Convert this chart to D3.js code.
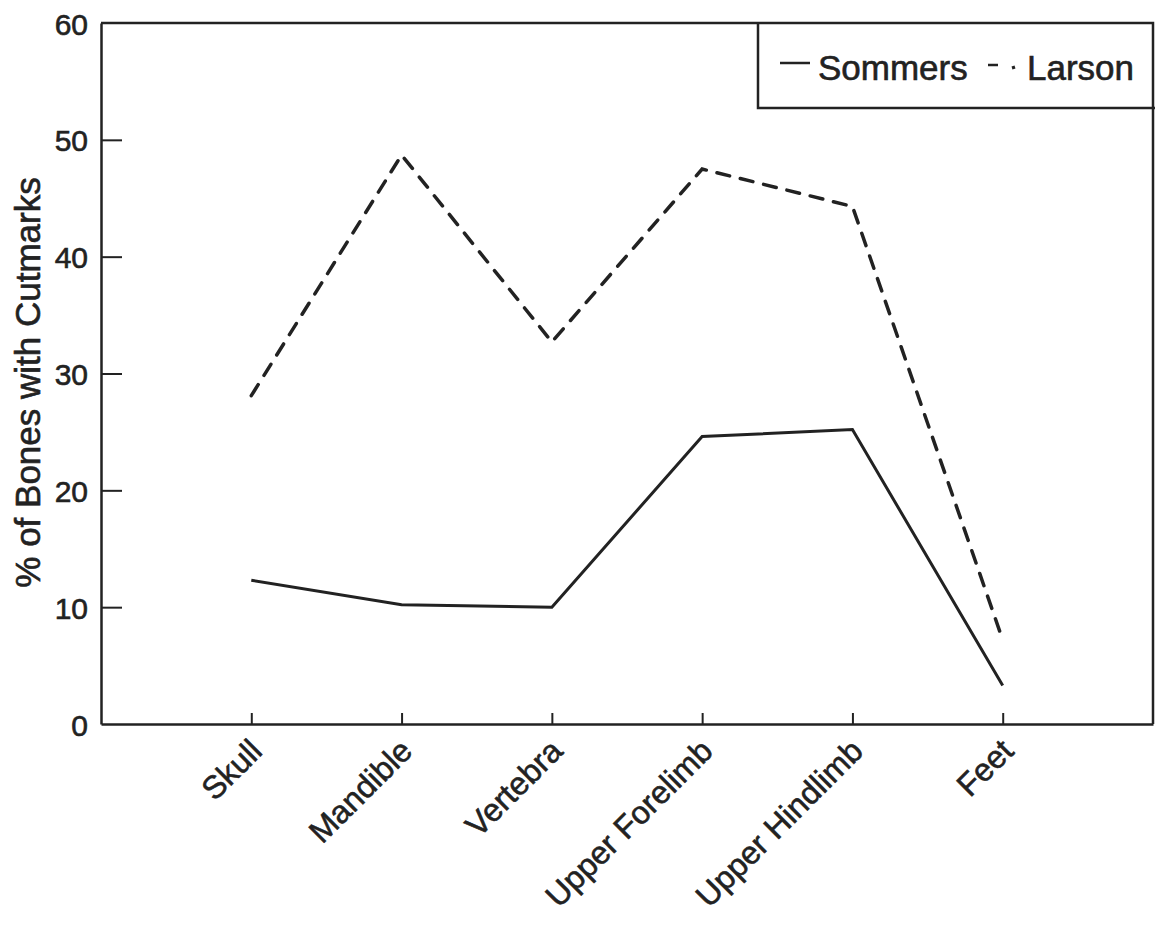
<!DOCTYPE html>
<html>
<head>
<meta charset="utf-8">
<script src="https://cdn.jsdelivr.net/npm/d3@7"></script>
<style>
  html, body { margin: 0; padding: 0; background: #fff; }
  svg { display: block; }
  text { font-family: "Liberation Sans", Arial, Helvetica, sans-serif; fill: #222; stroke: #222; stroke-width: 0.6px; }
</style>
</head>
<body>
<svg id="chart" width="1155" height="926"></svg>
<script>
// ---- data ----
const categories = ["Skull", "Mandible", "Vertebra", "Upper Forelimb", "Upper Hindlimb", "Feet"];
const sommers = [12.3, 10.2, 10.0, 24.6, 25.2, 3.3];
const larson  = [28.1, 48.7, 32.7, 47.5, 44.3, 7.2];
const yTicks = [0, 10, 20, 30, 40, 50, 60];
const seriesNames = ["Sommers", "Larson"];
const yTitle = "% of Bones with Cutmarks";

// ---- layout ----
const W = 1155, H = 926;
const mLeft = 101, mRight = 1153, mTop = 23, mBottom = 724;
const ink = "#222";

const svg = d3.select("#chart");

const x = d3.scalePoint().domain(categories).range([mLeft, mRight]).padding(1);
const y = d3.scaleLinear().domain([0, 60]).range([mBottom, mTop]);

// frame (top and right borders)
svg.append("path")
  .attr("d", `M${mLeft},${mTop}H${mRight}V${mBottom}`)
  .attr("fill", "none").attr("stroke", ink).attr("stroke-width", 2.5);

// y axis
const yAxis = svg.append("g")
  .attr("transform", `translate(${mLeft},0)`)
  .call(d3.axisLeft(y).tickValues(yTicks).tickSizeInner(-21).tickSizeOuter(0).tickPadding(13));
yAxis.select(".domain").attr("stroke", ink).attr("stroke-width", 2.5);
yAxis.selectAll(".tick line").attr("stroke", ink).attr("stroke-width", 2)
  .filter(d => d === 0 || d === 60).remove();
yAxis.selectAll(".tick text")
  .style("font-size", "30px").attr("fill", ink).attr("dy", "0.37em");

// x axis
const xAxis = svg.append("g")
  .attr("transform", `translate(0,${mBottom})`)
  .call(d3.axisBottom(x).tickSizeInner(-11).tickSizeOuter(0));
xAxis.select(".domain").attr("stroke", ink).attr("stroke-width", 2.5);
xAxis.selectAll(".tick line").attr("stroke", ink).attr("stroke-width", 2);
xAxis.selectAll(".tick text")
  .attr("x", null).attr("y", null).attr("dy", null)
  .attr("text-anchor", "end")
  .attr("transform", "translate(12,29) rotate(-45)")
  .style("font-size", "32px").attr("fill", ink);

// y title
svg.append("text")
  .attr("transform", `translate(40,${(mTop + mBottom) / 2 + 9}) rotate(-90)`)
  .attr("text-anchor", "middle")
  .style("font-size", "35px")
  .text(yTitle);

// lines
const line = d3.line().x((d, i) => x(categories[i])).y(d => y(d));
svg.append("path").datum(sommers)
  .attr("d", line).attr("fill", "none").attr("stroke", ink)
  .attr("stroke-width", 3).attr("stroke-linejoin", "miter");
svg.append("path").datum(larson)
  .attr("d", line).attr("fill", "none").attr("stroke", ink)
  .attr("stroke-width", 3.5).attr("stroke-dasharray", "13,11")
  .attr("stroke-linecap", "round");

// legend
const lg = svg.append("g");
lg.append("path")
  .attr("d", `M758,${mTop}V108H${W}`)
  .attr("fill", "none").attr("stroke", ink).attr("stroke-width", 2.5);
lg.append("line").attr("x1", 780).attr("x2", 810).attr("y1", 63).attr("y2", 63)
  .attr("stroke", ink).attr("stroke-width", 2.5);
lg.append("text").attr("x", 818).attr("y", 80).style("font-size", "35px").text(seriesNames[0]);
lg.append("line").attr("x1", 988).attr("x2", 998).attr("y1", 65).attr("y2", 65)
  .attr("stroke", ink).attr("stroke-width", 2.5);
lg.append("line").attr("x1", 1012).attr("x2", 1015).attr("y1", 68).attr("y2", 67)
  .attr("stroke", ink).attr("stroke-width", 3);
lg.append("text").attr("x", 1027).attr("y", 80).style("font-size", "35px").text(seriesNames[1]);
</script>
</body>
</html>
